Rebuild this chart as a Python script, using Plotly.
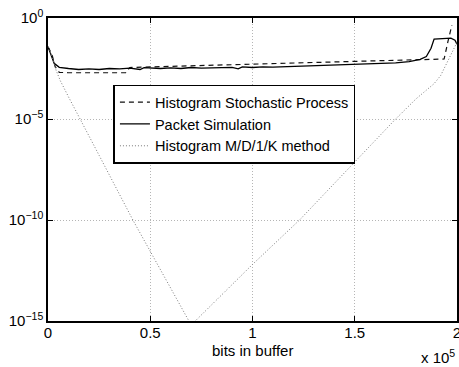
import plotly.graph_objects as go

# x positions in units of 1e5 bits; y values given as log10 of probability
x_hist = [0.0, 0.02, 0.035, 0.055, 0.1, 0.2, 0.3, 0.38, 0.40, 0.5, 0.6, 0.75, 0.9, 1.0, 1.1,
          1.25, 1.4, 1.5, 1.6, 1.75, 1.85, 1.937, 1.955, 1.975]
y_hist_log10 = [-1.43, -1.83, -2.41, -2.69, -2.71, -2.71, -2.71, -2.71, -2.45, -2.42, -2.39,
                -2.35, -2.31, -2.28, -2.25, -2.21, -2.18, -2.15, -2.12, -2.08, -2.05, -2.03,
                -1.2, -0.35]

x_sim = [0.0, 0.01, 0.03, 0.055, 0.08, 0.1, 0.15, 0.2, 0.25, 0.3, 0.35, 0.4, 0.45, 0.47, 0.55,
         0.6, 0.65, 0.7, 0.75, 0.8, 0.9, 0.93, 0.95, 1.0, 1.05, 1.1, 1.2, 1.3, 1.4, 1.5, 1.6,
         1.7, 1.766, 1.82, 1.85, 1.873, 1.888, 1.93, 1.97, 1.99, 2.0]
y_sim_log10 = [-1.42, -1.7, -2.24, -2.44, -2.48, -2.5, -2.55, -2.52, -2.55, -2.5, -2.52, -2.48,
               -2.55, -2.46, -2.5, -2.47, -2.5, -2.45, -2.48, -2.46, -2.44, -2.52, -2.42, -2.45,
               -2.42, -2.43, -2.4, -2.36, -2.33, -2.28, -2.25, -2.22, -2.16, -2.05, -1.91, -1.5,
               -1.04, -1.02, -1.0, -1.1, -1.3]

x_mdk = [0.0, 0.02, 0.04, 0.06, 0.1, 0.156, 0.25, 0.415, 0.5, 0.6, 0.7, 0.72, 1.0, 1.23, 1.5,
         1.7, 1.8, 1.888, 1.92, 1.946, 1.976, 2.0]
y_mdk_log10 = [-1.43, -1.9, -2.6, -3.1, -3.9, -5.0, -6.8, -10.0, -11.55, -13.4, -15.2, -15.0,
               -12.2, -10.0, -7.1, -5.0, -4.0, -3.25, -2.85, -2.35, -1.7, -1.2]

x_scale = 1e5
x_tick_vals = [0, 0.5, 1, 1.5, 2]
x_tick_text = ["0", "0.5", "1", "1.5", "2"]
y_tick_vals = [1e-15, 1e-10, 1e-5, 1]
y_tick_text = ["10<sup>\u221215</sup>", "10<sup>\u221210</sup>", "10<sup>\u22125</sup>", "10<sup>0</sup>"]

names = ["Histogram Stochastic Process", "Packet Simulation", "Histogram M/D/1/K method"]
x_label = "bits in buffer"
x_multiplier = "x 10<sup>5</sup>"

FONT = "Liberation Sans, Arial, Helvetica, sans-serif"

fig = go.Figure()
fig.add_trace(go.Scatter(x=[v * x_scale for v in x_hist], y=[10 ** v for v in y_hist_log10],
                         mode="lines", name=names[0],
                         line=dict(color="#111111", width=1.2, dash="5px,4px")))
fig.add_trace(go.Scatter(x=[v * x_scale for v in x_sim], y=[10 ** v for v in y_sim_log10],
                         mode="lines", name=names[1],
                         line=dict(color="#000000", width=1.3)))
fig.add_trace(go.Scatter(x=[v * x_scale for v in x_mdk], y=[10 ** v for v in y_mdk_log10],
                         mode="lines", name=names[2],
                         line=dict(color="#7a7a7a", width=1, dash="1px,2px")))

axis_common = dict(showline=True, linecolor="black", linewidth=1.5, mirror="ticks",
                   ticks="inside", ticklen=5, tickcolor="black", tickwidth=1,
                   showgrid=True, gridcolor="#b5b5b5", gridwidth=1, griddash="1px,2px",
                   zeroline=False, ticklabeloverflow="allow",
                   tickfont=dict(family=FONT, size=15, color="black"))

fig.update_xaxes(range=[0, 2 * x_scale], tickvals=[v * x_scale for v in x_tick_vals],
                 ticktext=x_tick_text, ticklabelstandoff=-3, **axis_common)
fig.update_yaxes(type="log", range=[-15, 0], tickvals=y_tick_vals, ticktext=y_tick_text,
                 **axis_common)

fig.add_annotation(text=x_label, xref="paper", yref="paper", x=0.5, y=-0.097,
                   xanchor="center", yanchor="middle", showarrow=False,
                   font=dict(family=FONT, size=15, color="black"))
fig.add_annotation(text=x_multiplier, xref="paper", yref="paper", x=1.0, y=-0.117,
                   xanchor="right", yanchor="middle", showarrow=False,
                   font=dict(family=FONT, size=15, color="black"))

fig.update_layout(
    width=459, height=367,
    margin=dict(l=48, r=2, t=18, b=46, autoexpand=False),
    paper_bgcolor="white", plot_bgcolor="white",
    font=dict(family=FONT, size=15, color="black"),
    showlegend=True,
    legend=dict(x=0.16, y=0.78, xanchor="left", yanchor="top",
                bgcolor="white", bordercolor="black", borderwidth=1.5,
                font=dict(family=FONT, size=14.5, color="black"),
                itemwidth=30, tracegroupgap=0),
)

fig.write_html("out.html")
